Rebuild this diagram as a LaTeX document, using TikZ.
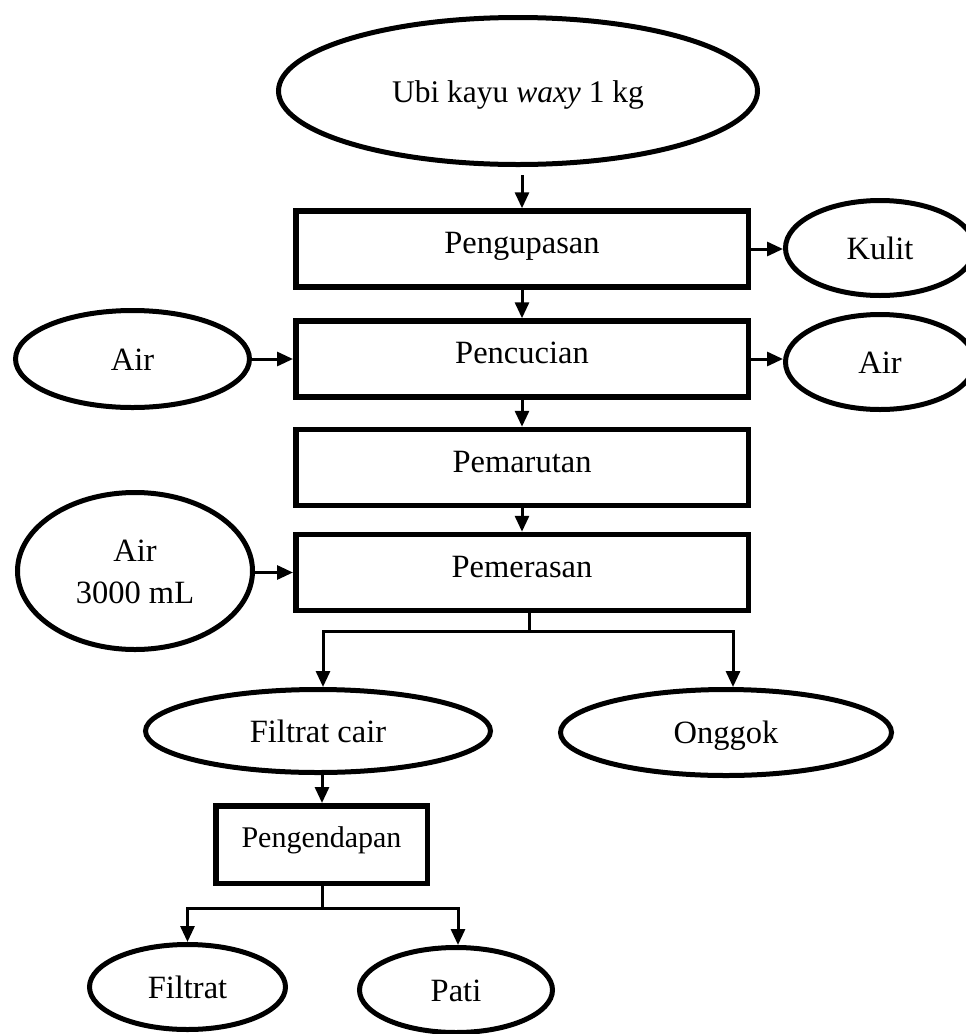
\documentclass[tikz,border=0pt]{standalone}
\usepackage{fontspec}
\setmainfont{Liberation Serif}
\usetikzlibrary{shapes.geometric,arrows.meta}
\tikzset{
  box/.style={draw, line width=5.5pt, minimum width=452.5pt, minimum height=76pt, inner sep=0pt, text height=22pt, text depth=13pt, font={\fontsize{32.5}{39}\selectfont}},
  oval/.style={draw, ellipse, line width=5pt, inner sep=0pt, text height=22pt, text depth=0pt, font={\fontsize{32.5}{42}\selectfont}, align=center},
  arr/.style={line width=3pt, -{Triangle[length=16pt,width=14pt]}},
  ln/.style={line width=3pt}
}
\begin{document}
\begin{tikzpicture}[x=1pt,y=-1pt]
\useasboundingbox (0,0) rectangle (966,1034);
\clip (0,0) rectangle (966,1034);
\fill[white] (0,0) rectangle (966,1034);
% ellipses
\node[oval, minimum width=479pt, minimum height=147pt, font={\fontsize{31.5}{38}\selectfont}] (ubi) at (518,91) {Ubi kayu \textit{waxy} 1 kg};
\node[oval, minimum width=189pt, minimum height=95pt] (kulit) at (880,248) {Kulit};
\node[oval, minimum width=189pt, minimum height=95pt] (airR) at (880,362) {Air};
\node[oval, minimum width=234pt, minimum height=97pt] (airL) at (132.5,359) {Air};
\node[oval, minimum width=235pt, minimum height=157pt, text height=64pt] (air3) at (135,571) {Air\\3000 mL};
\node[oval, minimum width=345pt, minimum height=83pt] (fcair) at (318,731) {Filtrat cair};
\node[oval, minimum width=331pt, minimum height=86pt] (onggok) at (726,732.5) {Onggok};
\node[oval, minimum width=196pt, minimum height=85pt] (filtrat) at (187.5,987) {Filtrat};
\node[oval, minimum width=193pt, minimum height=85pt] (pati) at (456,990) {Pati};
% boxes
\node[box] (kupas) at (522,249) {Pengupasan};
\node[box] (cuci) at (522,359) {Pencucian};
\node[box] (parut) at (522,467.5) {Pemarutan};
\node[box] (peras) at (522,572.5) {Pemerasan};
\node[box, minimum width=211.5pt, minimum height=77.5pt, text depth=17pt, font={\fontsize{30}{36}\selectfont}] (endap) at (321.5,844.5) {Pengendapan};
% connectors
\coordinate (u0) at ([yshift=-8pt]ubi.south);
\draw[arr] (u0 -| kupas.north) -- (kupas.north);
\draw[arr] (kupas.east) -- (kupas.east -| kulit.west);
\draw[arr] (kupas.south) -- (cuci.north);
\draw[arr] (airL.east |- cuci.east) -- (cuci.west);
\draw[arr] (cuci.east) -- (cuci.east -| airR.west);
\draw[arr] (cuci.south) -- (parut.north);
\draw[arr] (parut.south) -- (peras.north);
\draw[arr] (air3.east |- peras.west) -- (peras.west);
\coordinate (j1) at (529,631);
\draw[ln] (peras.south -| j1) -- (j1);
\draw[arr] (j1) -| ([xshift=5pt]fcair.north);
\draw[arr] (j1) -| ([xshift=7pt]onggok.north);
\draw[arr] ([xshift=4pt]fcair.south) -- ([xshift=0.5pt]endap.north);
\coordinate (j2) at (322,908);
\draw[ln] (endap.south -| j2) -- (j2);
\draw[arr] (j2) -| (filtrat.north);
\draw[arr] (j2) -| ([xshift=2pt]pati.north);
\end{tikzpicture}
\end{document}
